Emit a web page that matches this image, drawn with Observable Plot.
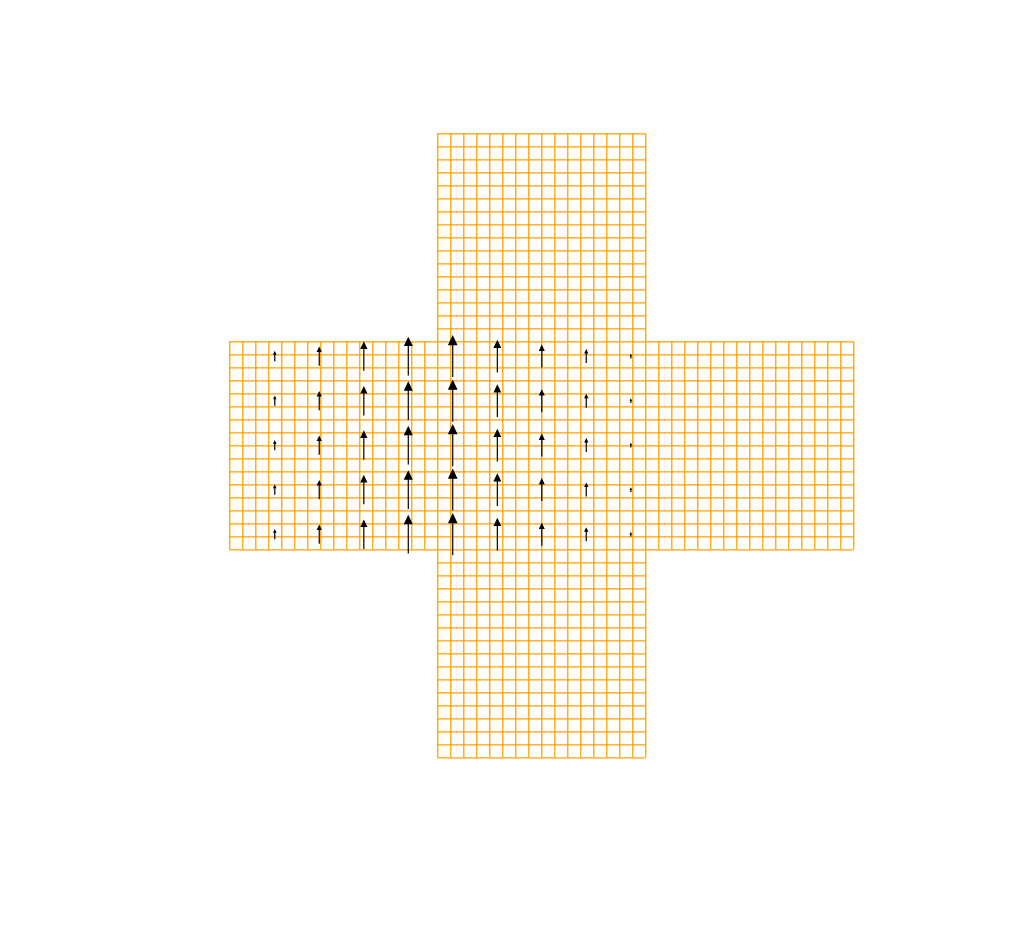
<!DOCTYPE html>
<html>
<head>
<meta charset="utf-8">
<script src="https://cdn.jsdelivr.net/npm/d3@7"></script>
<script src="https://cdn.jsdelivr.net/npm/@observablehq/plot@0.6"></script>
<style>
  html, body { margin: 0; padding: 0; background: #fff; }
  #chart svg { display: block; }
</style>
</head>
<body>
<div id="chart"></div>
<script>
// --- Data -------------------------------------------------------------
// Cube-sphere net: five faces of 16 x 16 cells laid out as a cross
const cellsPerFace = 16;
const faceNames = ["top", "west", "center", "east", "bottom"];
const faceCols  = [1, 0, 1, 2, 1];
const faceRows  = [0, 1, 1, 1, 2];

// Wind vector sample points (in cell units of the net)
const arrowX = [3.46, 6.88, 10.31, 13.73, 17.15, 20.58, 24, 27.42, 30.85];
const arrowY = [17.15, 20.58, 24, 27.42, 30.85];
// Northward component for each column (same along each column)
const arrowV = [2.2, 4.4, 6.9, 9.2, 10.0, 7.7, 5.3, 3.1, 0.85];

// --- Build tables -------------------------------------------------------
const vSeen = new Set(), hSeen = new Set();
const vLines = [], hLines = [];
faceNames.forEach((name, f) => {
  const x0 = faceCols[f] * cellsPerFace, y0 = faceRows[f] * cellsPerFace;
  for (let i = 0; i <= cellsPerFace; i++) {
    const kv = `${x0 + i}|${y0}`;
    if (!vSeen.has(kv)) { vSeen.add(kv); vLines.push({x: x0 + i, y1: y0, y2: y0 + cellsPerFace, face: name}); }
    const kh = `${y0 + i}|${x0}`;
    if (!hSeen.has(kh)) { hSeen.add(kh); hLines.push({y: y0 + i, x1: x0, x2: x0 + cellsPerFace, face: name}); }
  }
});

const arrows = [];
arrowY.forEach(y => arrowX.forEach((x, i) => arrows.push({x, y, v: arrowV[i]})));

// Filled-head arrow (quiver style); head scales with arrow length
const quiverArrow = {
  draw(context, l) {
    const hl = 0.2 * l, hw = 0.095 * l;
    context.moveTo(0, 0);
    context.lineTo(0, -l + hl * 0.9);
    context.moveTo(-hw, -l + hl);
    context.lineTo(0, -l);
    context.lineTo(hw, -l + hl);
    context.closePath();
  }
};

const chart = Plot.plot({
  width: 1024,
  height: 943,
  marginLeft: 0, marginRight: 0, marginTop: 0, marginBottom: 0,
  x: {domain: [0, 48], range: [229.3, 853.3], axis: null},
  y: {domain: [0, 48], range: [133.3, 757.3], axis: null},
  length: {domain: [0, 10], range: [0, 40.7]},
  marks: [
    Plot.ruleX(vLines, {x: "x", y1: "y1", y2: "y2", stroke: "#ffa000", strokeWidth: 1.3}),
    Plot.ruleY(hLines, {y: "y", x1: "x1", x2: "x2", stroke: "#ffa000", strokeWidth: 1.3}),
    Plot.vector(arrows, {
      x: "x", y: "y", length: "v", rotate: 0, anchor: "middle",
      shape: quiverArrow,
      stroke: "black", fill: "black", strokeWidth: 1.2,
      strokeLinejoin: "miter", strokeLinecap: "butt"
    })
  ]
});
document.getElementById("chart").appendChild(chart);
</script>
</body>
</html>
